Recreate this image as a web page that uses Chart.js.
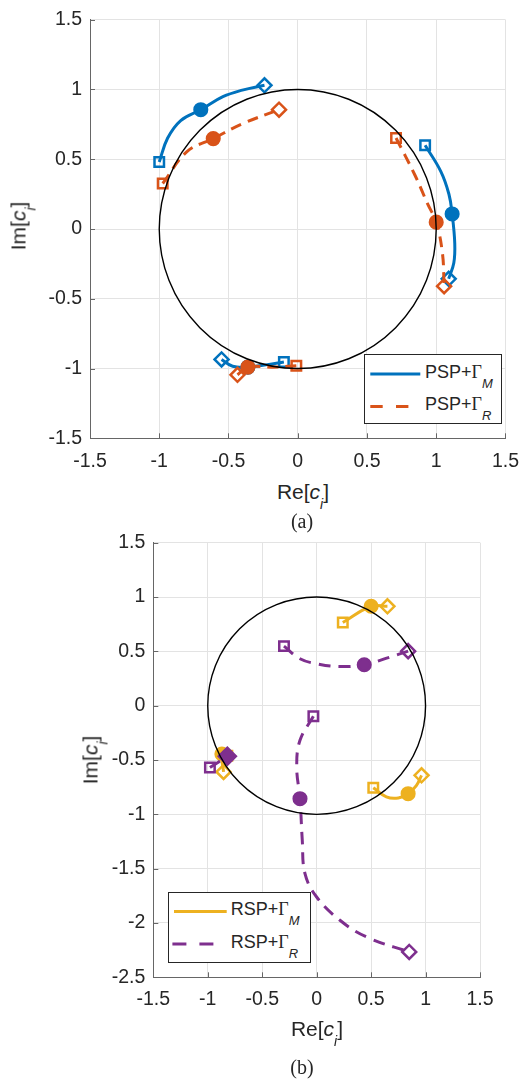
<!DOCTYPE html>
<html>
<head>
<meta charset="utf-8">
<script src="https://cdn.jsdelivr.net/npm/chart.js@4.4.0/dist/chart.umd.min.js"></script>
<style>
html, body { margin: 0; padding: 0; background: #fff; }
body { width: 531px; height: 1082px; position: relative; overflow: hidden; font-family: "Liberation Sans", Arial, sans-serif; color: #262626; }
canvas { position: absolute; left: 0; }
.lbl { position: absolute; font-size: 21px; line-height: 1; white-space: nowrap; transform: translate(-50%, -50%); z-index: 2; }
.lbl.rot { transform: translate(-50%, -50%) rotate(-90deg); }
.lbl i { font-style: italic; }
.lbl .sub { position: relative; top: 10px; font-size: 14px; font-style: italic; }
.cap { position: absolute; font-family: "Liberation Serif", "Times New Roman", serif; font-size: 20px; line-height: 1; transform: translate(-50%, -50%); z-index: 2; }
.leg { position: absolute; box-sizing: border-box; border: 1px solid #262626; background: #fff; z-index: 3; }
.leg svg { position: absolute; left: 0; top: 0; }
.leg .txt { position: absolute; font-size: 18px; line-height: 1; white-space: nowrap; transform: translate(0, -50%); }
.leg .g { font-family: "Liberation Serif", "Times New Roman", serif; }
.leg .sub { position: relative; top: 10px; font-size: 13px; font-style: italic; }
</style>
</head>
<body>
<canvas id="chartTop" width="531" height="475" style="top:0"></canvas>
<canvas id="chartBot" width="531" height="500" style="top:520px"></canvas>

<div class="lbl rot" style="left:17.5px; top:225.5px">Im[<i>c</i><span class="sub">i</span>]</div>
<div class="lbl" style="left:303px; top:491px">Re[<i>c</i><span class="sub">i</span>]</div>
<div class="cap" style="left:302px; top:521px">(a)</div>

<div class="lbl rot" style="left:90px; top:760px">Im[<i>c</i><span class="sub">i</span>]</div>
<div class="lbl" style="left:317px; top:1027.5px">Re[<i>c</i><span class="sub">i</span>]</div>
<div class="cap" style="left:302px; top:1067px">(b)</div>

<div class="leg" style="left:364px; top:354px; width:138px; height:70px">
  <svg width="138" height="70">
    <line x1="5.3" y1="19" x2="55.3" y2="19" stroke="#0072BD" stroke-width="3"/>
    <line x1="5.3" y1="51.4" x2="44.3" y2="51.4" stroke="#D95319" stroke-width="3" stroke-dasharray="12.4 13.3"/>
  </svg>
  <div class="txt" style="left:60px; top:17px">PSP+<span class="g">Γ</span><span class="sub">M</span></div>
  <div class="txt" style="left:60px; top:48.5px">PSP+<span class="g">Γ</span><span class="sub">R</span></div>
</div>

<div class="leg" style="left:168px; top:892px; width:143px; height:71px">
  <svg width="143" height="71">
    <line x1="5" y1="18.6" x2="57.7" y2="18.6" stroke="#EDB120" stroke-width="3"/>
    <line x1="3.4" y1="51" x2="45.4" y2="51" stroke="#7E2F8E" stroke-width="3" stroke-dasharray="14 13"/>
  </svg>
  <div class="txt" style="left:61.7px; top:16px">RSP+<span class="g">Γ</span><span class="sub">M</span></div>
  <div class="txt" style="left:61.7px; top:49px">RSP+<span class="g">Γ</span><span class="sub">R</span></div>
</div>

<script>
// ===== DATA =====
// tick labels
const ticksX = [-1.5, -1, -0.5, 0, 0.5, 1, 1.5];
const ticksYTop = [-1.5, -1, -0.5, 0, 0.5, 1, 1.5];
const ticksYBot = [-2.5, -2, -1.5, -1, -0.5, 0, 0.5, 1, 1.5];
const circleR = 1; // unit circle

// (a) PSP+Gamma_M : square = start, circle = middle marker, diamond = end
const pspM1 = [[-1.0, 0.48], [-0.94, 0.65], [-0.845, 0.777], [-0.70, 0.855], [-0.54, 0.948], [-0.40, 0.995], [-0.24, 1.03]];
const pspM2 = [[0.92, 0.60], [1.033, 0.413], [1.092, 0.249], [1.115, 0.108], [1.134, -0.104], [1.127, -0.244], [1.09, -0.357]];
const pspM3 = [[-0.10, -0.953], [-0.22, -0.972], [-0.36, -0.99], [-0.47, -0.984], [-0.55, -0.935]];
const pspMMid = [3, 3, 2];

// (a) PSP+Gamma_R
const pspR1 = [[-0.975, 0.326], [-0.80, 0.554], [-0.61, 0.648], [-0.40, 0.754], [-0.135, 0.855]];
const pspR2 = [[0.71, 0.652], [0.845, 0.389], [0.939, 0.178], [1.0, 0.049], [1.045, -0.174], [1.057, -0.41]];
const pspR3 = [[-0.01, -0.98], [-0.18, -0.99], [-0.36, -0.99], [-0.435, -1.045]];
const pspRMid = [2, 3, 2];

// (b) RSP+Gamma_M
const rspM1 = [[0.24, 0.765], [0.50, 0.915], [0.65, 0.915]];
const rspM2 = [[-0.82, -0.46], [-0.87, -0.445], [-0.855, -0.61]];
const rspM3 = [[0.52, -0.755], [0.64, -0.84], [0.75, -0.85], [0.84, -0.81], [0.917, -0.733], [0.963, -0.641]];
const rspMMid = [1, 1, 3];

// (b) RSP+Gamma_R
const rspR1 = [[-0.30, 0.548], [-0.153, 0.432], [0.0, 0.386], [0.214, 0.36], [0.437, 0.377], [0.673, 0.447], [0.84, 0.502]];
const rspR2 = [[-0.03, -0.098], [-0.153, -0.319], [-0.183, -0.565], [-0.153, -0.856], [-0.132, -1.239], [-0.107, -1.546], [0.0, -1.761], [0.214, -1.975], [0.459, -2.129], [0.85, -2.267]];
const rspR3 = [[-0.98, -0.57], [-0.82, -0.465]];
const rspRMid = [4, 3, 1];

const BLUE = '#0072BD', ORANGE = '#D95319', YELLOW = '#EDB120', PURPLE = '#7E2F8E';

// ===== DATASETS =====
function traj(points, mid, color, dash, order) {
  const last = points.length - 1;
  const isMid = i => i === mid && mid !== last;
  return {
    data: points.map(p => ({ x: p[0], y: p[1] })),
    showLine: true,
    borderColor: color,
    borderWidth: 3,
    borderDash: dash,
    tension: 0.4,
    order: order,
    pointStyle: c => c.dataIndex === 0 ? 'rect' : isMid(c.dataIndex) ? 'circle' : 'rectRot',
    pointRadius: c => {
      const i = c.dataIndex;
      if (i === 0) return 6.7;
      if (isMid(i)) return 6.3;
      if (i === last) return mid === last ? 8.5 : 7;
      return 0;
    },
    pointBorderColor: color,
    pointBackgroundColor: c => (c.dataIndex === mid) ? color : 'rgba(0,0,0,0)',
    pointBorderWidth: 2.5,
  };
}

// ===== PLUGINS =====
const unitCircle = {
  id: 'unitCircle',
  afterDatasetsDraw(chart) {
    const { ctx, scales: { x, y } } = chart;
    const cx = x.getPixelForValue(0), cy = y.getPixelForValue(0);
    const rx = x.getPixelForValue(circleR) - cx, ry = cy - y.getPixelForValue(circleR);
    ctx.save();
    ctx.strokeStyle = '#000';
    ctx.lineWidth = 1.4;
    ctx.beginPath();
    ctx.ellipse(cx, cy, rx, ry, 0, 0, Math.PI * 2);
    ctx.stroke();
    ctx.restore();
  }
};

// MATLAB style ticks pointing inward
const innerTicks = {
  id: 'innerTicks',
  afterDraw(chart) {
    const { ctx, chartArea: a, scales: { x, y } } = chart;
    ctx.save();
    ctx.strokeStyle = '#666';
    ctx.lineWidth = 1;
    ctx.beginPath();
    x.ticks.forEach(t => { const px = Math.round(x.getPixelForValue(t.value)) + 0.5; ctx.moveTo(px, a.bottom); ctx.lineTo(px, a.bottom - 5); });
    y.ticks.forEach(t => { const py = Math.round(y.getPixelForValue(t.value)) + 0.5; ctx.moveTo(a.left, py); ctx.lineTo(a.left + 5, py); });
    ctx.stroke();
    ctx.restore();
  }
};

function makeChart(id, datasets, yMin, yticks, geo) {
  const tickFont = { family: '"Liberation Sans", Arial, sans-serif', size: 19.5 };
  const fmtTick = v => String(v);
  return new Chart(document.getElementById(id), {
    type: 'scatter',
    data: { datasets },
    options: {
      responsive: false,
      animation: false,
      events: [],
      layout: { padding: { left: 0, top: geo.top, right: geo.right, bottom: 0 } },
      plugins: { legend: { display: false }, tooltip: { enabled: false } },
      scales: {
        x: {
          type: 'linear', min: -1.5, max: 1.5,
          afterBuildTicks: s => { s.ticks = ticksX.map(v => ({ value: v })); },
          afterFit: s => { s.height = geo.xh; },
          ticks: { font: tickFont, color: '#262626', padding: geo.xpad, maxRotation: 0, autoSkip: false, callback: fmtTick },
          grid: { color: '#e3e3e3', drawTicks: false },
          border: { display: true, color: '#666', width: 1 },
        },
        y: {
          type: 'linear', min: yMin, max: 1.5,
          afterBuildTicks: s => { s.ticks = yticks.map(v => ({ value: v })); },
          afterFit: s => { s.width = geo.yw; },
          ticks: { font: tickFont, color: '#262626', padding: 8, autoSkip: false, callback: fmtTick },
          grid: { color: '#e3e3e3', drawTicks: false },
          border: { display: true, color: '#666', width: 1 },
        }
      }
    },
    plugins: [unitCircle, innerTicks]
  });
}

// ===== TOP (a) =====
const dashA = [11, 7];
makeChart('chartTop', [
  traj(pspR1, pspRMid[0], ORANGE, dashA, 1),
  traj(pspR2, pspRMid[1], ORANGE, dashA, 1),
  traj(pspR3, pspRMid[2], ORANGE, dashA, 1),
  traj(pspM1, pspMMid[0], BLUE, [], 2),
  traj(pspM2, pspMMid[1], BLUE, [], 2),
  traj(pspM3, pspMMid[2], BLUE, [], 2),
], -1.5, ticksYTop, { top: 12.7, right: 15, xh: 475 - 438.3, yw: 90, xpad: 12 });

// ===== BOTTOM (b) =====
const dashB = [12, 8];
makeChart('chartBot', [
  traj(rspR1, rspRMid[0], PURPLE, dashB, 1),
  traj(rspR2, rspRMid[1], PURPLE, dashB, 1),
  traj(rspR3, rspRMid[2], PURPLE, dashB, 1),
  traj(rspM1, rspMMid[0], YELLOW, [], 2),
  traj(rspM2, rspMMid[1], YELLOW, [], 2),
  traj(rspM3, rspMMid[2], YELLOW, [], 2),
], -2.5, ticksYBot, { top: 22.7, right: 51, xh: 500 - 457.3, yw: 153.3, xpad: 11 });
</script>
</body>
</html>
